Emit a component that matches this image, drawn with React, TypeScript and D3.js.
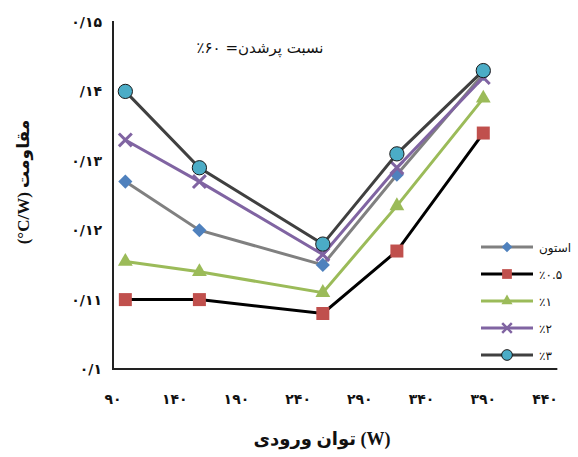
import React, { useEffect, useRef } from 'react';
import * as d3 from 'd3';

// input power (W)
const powers = [100, 160, 260, 320, 390];

// thermal resistance (°C/W) per working fluid
const acetone = [0.127, 0.12, 0.115, 0.128, 0.1425];
const half = [0.11, 0.11, 0.108, 0.117, 0.134];
const one = [0.1155, 0.114, 0.111, 0.1235, 0.139];
const two = [0.133, 0.127, 0.1165, 0.129, 0.142];
const three = [0.14, 0.129, 0.118, 0.131, 0.143];

const seriesNames = ['استون', '٪۰.۵', '٪۱', '٪۲', '٪۳'];

const xTicks = [90, 140, 190, 240, 290, 340, 390, 440];
const xTickLabels = ['۹۰', '۱۴۰', '۱۹۰', '۲۴۰', '۲۹۰', '۳۴۰', '۳۹۰', '۴۴۰'];
const yTicks = [0.1, 0.11, 0.12, 0.13, 0.14, 0.15];
const yTickLabels = ['۰/۱', '۰/۱۱', '۰/۱۲', '۰/۱۳', '/۱۴', '۰/۱۵'];

const styles = [
  { line: '#808080', fill: '#4F81BD', stroke: 'none', shape: 'diamond' },
  { line: '#000000', fill: '#C0504D', stroke: 'none', shape: 'square' },
  { line: '#9BBB59', fill: '#9BBB59', stroke: 'none', shape: 'triangle' },
  { line: '#8064A2', fill: 'none', stroke: '#8064A2', shape: 'x' },
  { line: '#404040', fill: '#4BACC6', stroke: '#1a1a1a', shape: 'circle' },
];

const FONT = '"DejaVu Sans", sans-serif';
const TITLE_FONT = '"Liberation Serif", "DejaVu Sans", serif';

function symbolPath(shape: string, k: number) {
  switch (shape) {
    case 'diamond':
      return d3.symbol(d3.symbolSquare, 100 * k * k)();
    case 'square':
      return d3.symbol(d3.symbolSquare, 169 * k * k)();
    case 'triangle':
      return d3.symbol(d3.symbolTriangle, 95 * k * k)();
    case 'x':
      return d3.symbol(d3.symbolX, 110 * k * k)();
    default:
      return d3.symbol(d3.symbolCircle, 160 * k * k)();
  }
}

export default function App() {
  const ref = useRef<SVGSVGElement>(null);

  useEffect(() => {
    const svg = d3.select(ref.current);
    svg.selectAll('*').remove();

    const x = d3.scaleLinear().domain([90, 440]).range([113, 545]);
    const y = d3.scaleLinear().domain([0.1, 0.15]).range([369, 22]);

    const series = [acetone, half, one, two, three];

    // axes lines (left and bottom only)
    svg.append('line')
      .attr('x1', x(90)).attr('x2', x(90))
      .attr('y1', y(0.15) - 1).attr('y2', y(0.1) + 1)
      .attr('stroke', '#222').attr('stroke-width', 2);
    svg.append('line')
      .attr('x1', x(90) - 1).attr('x2', x(450))
      .attr('y1', y(0.1)).attr('y2', y(0.1))
      .attr('stroke', '#222').attr('stroke-width', 2);

    // tick labels
    svg.append('g').selectAll('text')
      .data(yTicks)
      .join('text')
      .attr('x', 102)
      .attr('y', d => y(d) + 5)
      .attr('text-anchor', 'end')
      .attr('font-family', FONT)
      .attr('font-weight', 'bold')
      .attr('font-size', 14)
      .attr('fill', '#111')
      .text((d, i) => yTickLabels[i]);

    svg.append('g').selectAll('text')
      .data(xTicks)
      .join('text')
      .attr('x', d => x(d))
      .attr('y', 404)
      .attr('text-anchor', 'middle')
      .attr('font-family', FONT)
      .attr('font-weight', 'bold')
      .attr('font-size', 14)
      .attr('fill', '#111')
      .text((d, i) => xTickLabels[i]);

    // axis titles
    svg.append('text')
      .attr('x', 322)
      .attr('y', 445)
      .attr('text-anchor', 'middle')
      .attr('font-family', TITLE_FONT)
      .attr('font-weight', 'bold')
      .attr('font-size', 18)
      .attr('fill', '#111')
      .text('توان ورودی (W)');

    svg.append('text')
      .attr('transform', 'translate(29, 182) rotate(-90)')
      .attr('text-anchor', 'middle')
      .attr('font-family', TITLE_FONT)
      .attr('font-weight', 'bold')
      .attr('font-size', 17)
      .attr('fill', '#111')
      .text('(°C/W) مقاومت');

    // annotation
    svg.append('text')
      .attr('x', 260)
      .attr('y', 53)
      .attr('text-anchor', 'middle')
      .attr('direction', 'rtl')
      .attr('font-family', FONT)
      .attr('font-size', 15)
      .attr('fill', '#111')
      .text('نسبت پرشدن= ۶۰٪');

    const line = d3.line<number>()
      .x((d, i) => x(powers[i]))
      .y(d => y(d));

    series.forEach((vals, si) => {
      const st = styles[si];
      const g = svg.append('g');
      g.append('path')
        .attr('d', line(vals))
        .attr('fill', 'none')
        .attr('stroke', st.line)
        .attr('stroke-width', 3);

      g.selectAll('path.m')
        .data(vals)
        .join('path')
        .attr('class', 'm')
        .attr('d', symbolPath(st.shape, 1))
        .attr('transform', (d, i) =>
          `translate(${x(powers[i])}, ${y(d)})` + (st.shape === 'diamond' ? ' rotate(45)' : ''))
        .attr('fill', st.fill)
        .attr('stroke', st.stroke)
        .attr('stroke-width', st.shape === 'x' ? 3 : 1);
    });

    // legend
    const legend = svg.append('g').attr('transform', 'translate(481, 247)');
    const rows = legend.selectAll('g')
      .data(seriesNames)
      .join('g')
      .attr('transform', (d, i) => `translate(0, ${i * 27})`);

    rows.append('line')
      .attr('x1', 0).attr('x2', 52)
      .attr('stroke', (d, i) => styles[i].line)
      .attr('stroke-width', 3);

    rows.append('path')
      .attr('d', (d, i) => symbolPath(styles[i].shape, 0.75))
      .attr('transform', (d, i) => 'translate(26, 0)' + (styles[i].shape === 'diamond' ? ' rotate(45)' : ''))
      .attr('fill', (d, i) => styles[i].fill)
      .attr('stroke', (d, i) => styles[i].stroke)
      .attr('stroke-width', (d, i) => (styles[i].shape === 'x' ? 2.5 : 1));

    rows.append('text')
      .attr('x', 58)
      .attr('y', 5)
      .attr('font-family', FONT)
      .attr('font-size', 12)
      .attr('fill', '#111')
      .text(d => d);
  }, []);

  return (
    <svg
      ref={ref}
      width={578}
      height={457}
      style={{ position: 'absolute', left: 0, top: 0, background: '#fff' }}
    />
  );
}
